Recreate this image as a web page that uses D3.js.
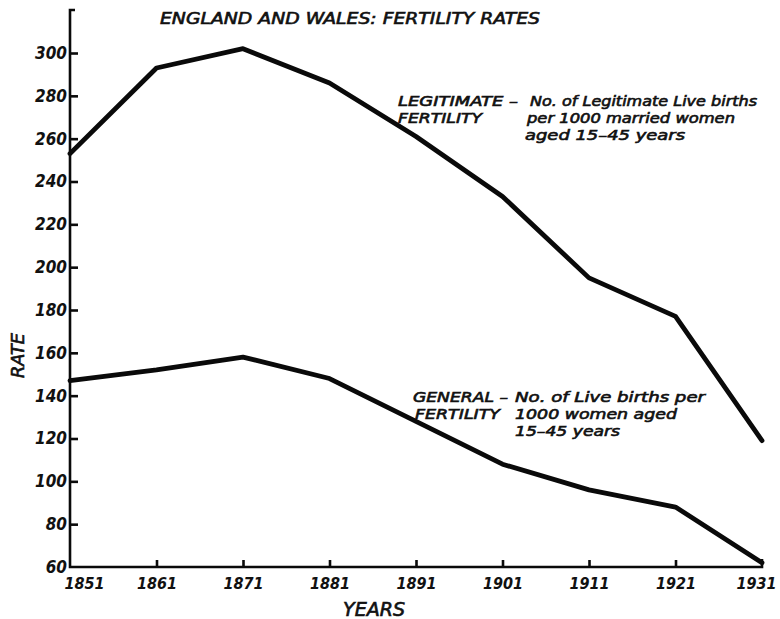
<!DOCTYPE html>
<html>
<head>
<meta charset="utf-8">
<title>England and Wales: fertility rates</title>
<script src="https://cdn.jsdelivr.net/npm/d3@7"></script>
<style>
body { margin: 0; background: #fff; }
text { fill: #111; font-family: "DejaVu Sans Condensed", "DejaVu Sans", sans-serif; font-style: oblique; }
.tick text { font-weight: bold; font-size: 17px; }
.note text, .lbl { font-size: 14.5px; stroke: #111; stroke-width: 0.6px; }
.line { fill: none; stroke: #0a0a0a; stroke-width: 4.8; stroke-linejoin: round; stroke-linecap: round; }
.axis line, .axisline { stroke: #0a0a0a; stroke-width: 2.6; fill: none; }
</style>
</head>
<body>
<script>
// census years
var years = [1851, 1861, 1871, 1881, 1891, 1901, 1911, 1921, 1931];
// live births per 1000 married women aged 15-45
var legitimate = [253, 293, 302, 286, 261, 233, 195, 177, 119];
// live births per 1000 women aged 15-45
var general = [147, 152, 158, 148, 128, 108, 96, 88, 62];
var yTicks = [60, 80, 100, 120, 140, 160, 180, 200, 220, 240, 260, 280, 300];

var width = 780, height = 619;

var x = d3.scaleLinear().domain([1851, 1931]).range([70, 762]);
var y = d3.scaleLinear().domain([60, 300]).range([567, 53]);

var svg = d3.select("body").append("svg")
    .attr("width", width)
    .attr("height", height);

// axes
svg.append("path")
    .attr("class", "axisline")
    .attr("d", "M" + (x(1851) + 5) + ",10 L" + x(1851) + ",10 L" + x(1851) + "," + y(60) + " L" + x(1931) + "," + y(60) + " L" + x(1931) + "," + (y(60) - 8));

var yAxis = svg.append("g")
    .attr("class", "axis")
    .attr("transform", "translate(" + x(1851) + ",0)")
    .call(d3.axisLeft(y).tickValues(yTicks).tickSizeInner(-8).tickSizeOuter(0).tickPadding(3));
yAxis.select(".domain").remove();
yAxis.selectAll(".tick line").attr("x1", -1);
yAxis.select(".tick:first-of-type line").remove();

var xAxis = svg.append("g")
    .attr("class", "axis")
    .attr("transform", "translate(0," + y(60) + ")")
    .call(d3.axisBottom(x).tickValues(years).tickFormat(d3.format("d")).tickSizeInner(-7).tickSizeOuter(0).tickPadding(8));
xAxis.select(".domain").remove();
xAxis.selectAll(".tick text").attr("dy", "0.9em").style("font-size", "16px");
xAxis.selectAll(".tick line").filter(function(d) { return d == 1851 || d == 1931; }).remove();
xAxis.select(".tick:first-of-type text").attr("text-anchor", "start").attr("dx", -6);
xAxis.select(".tick:last-of-type text").attr("dx", -6);

// lines
var line = d3.line()
    .x(function(d, i) { return x(years[i]); })
    .y(function(d) { return y(d); });

svg.append("path").datum(legitimate).attr("class", "line").attr("d", line);
svg.append("path").datum(general).attr("class", "line").attr("d", line);

// labels
function label(x0, y0, str, len, size) {
  return svg.append("text")
      .attr("class", "lbl")
      .attr("x", x0).attr("y", y0)
      .attr("textLength", len)
      .attr("lengthAdjust", "spacingAndGlyphs")
      .style("font-size", size + "px")
      .text(str);
}

label(160, 24, "ENGLAND AND WALES: FERTILITY RATES", 380, 16.5);
label(343, 616, "YEARS", 62, 19);
label(0, 0, "RATE", 45, 18)
    .attr("transform", "translate(24,378) rotate(-90)");

function note(rows) {
  var g = svg.append("g").attr("class", "note");
  rows.forEach(function(r) {
    g.append("text")
        .attr("x", r[0]).attr("y", r[1])
        .attr("textLength", r[2])
        .attr("lengthAdjust", "spacingAndGlyphs")
        .text(r[3]);
  });
}

note([
  [398, 106, 120, "LEGITIMATE \u2013"],
  [530, 106, 227, "No. of Legitimate Live births"],
  [398, 123, 84, "FERTILITY"],
  [527, 123, 208, "per 1000 married women"],
  [525, 140, 160, "aged 15\u201345 years"]
]);

note([
  [413, 402, 95, "GENERAL \u2013"],
  [515, 402, 190, "No. of Live births per"],
  [415, 419, 85, "FERTILITY"],
  [515, 419, 162, "1000 women aged"],
  [515, 436, 105, "15\u201345 years"]
]);
</script>
</body>
</html>
